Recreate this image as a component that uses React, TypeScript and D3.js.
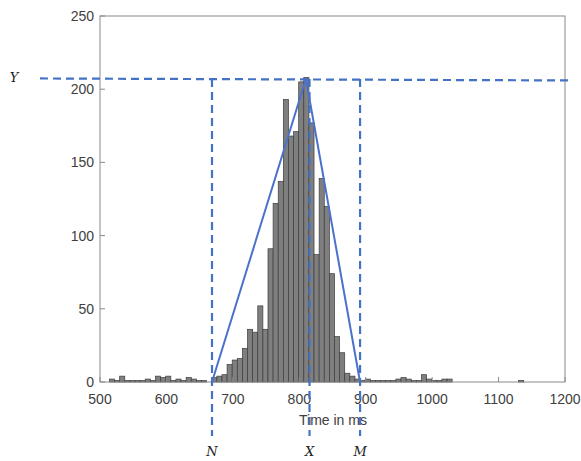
import React from "react";
import * as d3 from "d3";

const binStart = 514.2;
const binWidth = 7.7;
const counts = [
  2, 1, 4, 1, 1, 1, 1, 2, 1, 4, 3, 4, 1, 2, 1, 3, 2, 1, 1, 0,
  3, 4, 5, 12, 15, 16, 23, 36, 34, 52, 36, 91, 122, 137, 193, 168, 171, 205, 208, 177,
  87, 139, 120, 74, 31, 20, 6, 4, 2, 1, 2, 1, 1, 1, 1, 1, 2, 3, 2, 1,
  1, 5, 2, 1, 1, 2, 2, 0, 0, 0, 0, 0, 0, 0, 0, 0, 0, 0, 0, 0, 1,
];
const xTicks = [500, 600, 700, 800, 900, 1000, 1100, 1200];
const yTicks = [0, 50, 100, 150, 200, 250];
const markN = 668.6;
const markX = 815.4;
const markM = 891.5;
const peakX = 810;
const peakY = 207;
const xLabel = "Time in ms";

export default function App() {
  const x = d3.scaleLinear().domain([500, 1200]).range([100, 565]);
  const y = d3.scaleLinear().domain([0, 250]).range([382, 16]);
  const blue = "#4472c4";
  const tickFont = { fontFamily: "Liberation Sans, Arial, sans-serif", fontSize: 14, fill: "#404040" };
  const tri = d3.line<[number, number]>().x((d) => x(d[0])).y((d) => y(d[1]));
  const triPts: [number, number][] = [[markN, 0], [peakX, peakY], [markM, 0]];
  const yLine = y(peakY);
  return (
    <svg width={581} height={461} style={{ position: "absolute", left: 0, top: 0, background: "#fff" }}>
      {counts.map((c, i) =>
        c > 0 ? (
          <rect
            key={i}
            x={x(binStart + i * binWidth)}
            y={y(c)}
            width={x(binStart + (i + 1) * binWidth) - x(binStart + i * binWidth)}
            height={y(0) - y(c)}
            fill="#7f7f7f"
            stroke="#3c3c3c"
            strokeWidth={0.7}
          />
        ) : null
      )}
      {/* axes box */}
      <rect x={100} y={16} width={465} height={366} fill="none" stroke="#8a8a8a" strokeWidth={1} />
      {xTicks.map((t) => (
        <g key={"x" + t}>
          <line x1={x(t)} x2={x(t)} y1={382} y2={377} stroke="#8a8a8a" />
          <text x={x(t)} y={404} textAnchor="middle" {...tickFont}>{t}</text>
        </g>
      ))}
      {yTicks.map((t) => (
        <g key={"y" + t}>
          <line x1={100} x2={105} y1={y(t)} y2={y(t)} stroke="#8a8a8a" />
          <text x={94} y={y(t) + 5} textAnchor="end" {...tickFont}>{t}</text>
        </g>
      ))}
      <text x={333} y={425} textAnchor="middle" {...tickFont}>{xLabel}</text>
      {/* dashed guides */}
      <line x1={40} x2={568} y1={yLine - 0.5} y2={yLine + 1.5} stroke={blue} strokeWidth={2.2} strokeDasharray="8,5" />
      {[markN, markX, markM].map((m, i) => (
        <line key={"v" + i} x1={x(m)} x2={x(m)} y1={yLine} y2={436} stroke={blue} strokeWidth={2.2} strokeDasharray="8,5" />
      ))}
      <path d={tri(triPts) || ""} fill="none" stroke="#4a72cc" strokeWidth={2} strokeLinejoin="miter" />
      {[["N", markN], ["X", markX], ["M", markM]].map(([l, m]) => (
        <text key={l as string} x={x(m as number)} y={456} textAnchor="middle" fontFamily="DejaVu Serif, serif" fontStyle="italic" fontSize={13} fill="#222">{l}</text>
      ))}
      <text x={14} y={82} textAnchor="middle" fontFamily="DejaVu Serif, serif" fontStyle="italic" fontSize={13} fill="#222">Y</text>
    </svg>
  );
}
